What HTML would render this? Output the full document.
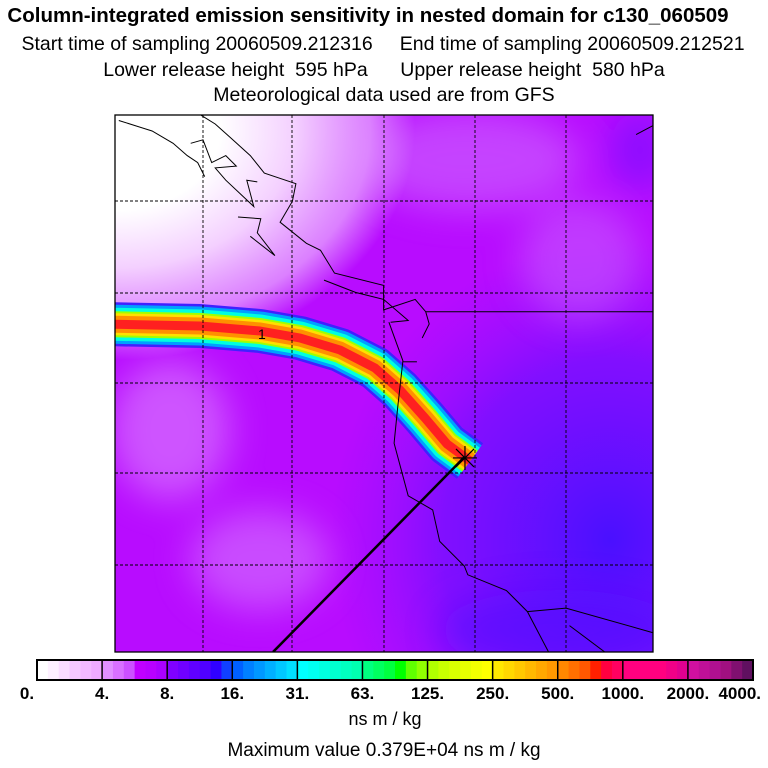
<!DOCTYPE html>
<html><head><meta charset="utf-8"><style>
body{margin:0;background:#fff;width:768px;height:768px;overflow:hidden;font-family:"Liberation Sans",sans-serif}
.t{position:absolute;left:0;width:768px;text-align:center;font-size:19.5px;color:#000;white-space:pre}
</style></head><body>
<div class="t" style="top:4px;left:-16px;font-weight:bold;font-size:20.5px">Column-integrated emission sensitivity in nested domain for c130_060509</div>
<div class="t" style="top:33px;left:-1px">Start time of sampling 20060509.212316     End time of sampling 20060509.212521</div>
<div class="t" style="top:59px">Lower release height  595 hPa      Upper release height  580 hPa</div>
<div class="t" style="top:84px">Meteorological data used are from GFS</div>
<svg id="s" width="768" height="768" style="position:absolute;left:0;top:0">
<defs>
<radialGradient id="wh" cx="0" cy="0" r="1" gradientUnits="userSpaceOnUse" gradientTransform="translate(115,130) scale(300,230)">
<stop offset="0" stop-color="#fff"/><stop offset="0.35" stop-color="#fff"/><stop offset="0.6" stop-color="#f4d0ff"/><stop offset="0.85" stop-color="#e49cff" stop-opacity="0.8"/><stop offset="1" stop-color="#e49cff" stop-opacity="0"/></radialGradient>
<radialGradient id="bl" cx="0" cy="0" r="1" gradientUnits="userSpaceOnUse" gradientTransform="translate(610,540) scale(280,300)">
<stop offset="0" stop-color="#4a10ff"/><stop offset="0.6" stop-color="#6a10ff" stop-opacity="0.7"/><stop offset="1" stop-color="#8a10ff" stop-opacity="0"/></radialGradient>
<filter id="blur"><feGaussianBlur stdDeviation="18"/></filter>
<clipPath id="cp"><rect x="115" y="115" width="538" height="537"/></clipPath>
</defs>
<g clip-path="url(#cp)">
<rect x="115" y="115" width="538" height="537" fill="#b80cff"/>
<rect x="115" y="115" width="538" height="537" fill="url(#bl)"/>
<g filter="url(#blur)" opacity="0.55">
<ellipse cx="170" cy="430" rx="60" ry="70" fill="#e090ff"/>
<ellipse cx="260" cy="560" rx="70" ry="50" fill="#d880ff"/>
<ellipse cx="470" cy="160" rx="110" ry="50" fill="#d070ff"/>
<ellipse cx="580" cy="260" rx="60" ry="60" fill="#c860ff"/>
<ellipse cx="640" cy="150" rx="30" ry="40" fill="#6a10ff"/>
<ellipse cx="560" cy="630" rx="120" ry="40" fill="#5010ff"/>
</g>
<rect x="115" y="115" width="538" height="537" fill="url(#wh)"/>
<g id="plume"></g>
<g id="grid"></g>
<g id="coast" fill="none" stroke="#000" stroke-width="1"></g>
<text x="258" y="339" font-size="14" font-family="Liberation Sans">1</text>
</g>
<rect x="115" y="115" width="538" height="537" fill="none" stroke="#000" stroke-width="1.3"/>
<g id="cbar"></g>
<text x="385" y="725" text-anchor="middle" font-size="18" font-family="Liberation Sans">ns m / kg</text>
<text x="384" y="756" text-anchor="middle" font-size="19" font-family="Liberation Sans">Maximum value  0.379E+04 ns m / kg</text>
</svg>
<script>
const cbLabels=["0.","4.","8.","16.","31.","63.","125.","250.","500.","1000.","2000.","4000."];
const cbColors=[
["#fff","#fdf0ff","#fadcff","#f6c8ff","#f2b8ff","#eeaaff"],
["#e090ff","#d870ff","#cc50ff","#c000ff","#b800ff","#aa00ff"],
["#8000ff","#7000ff","#6000ff","#5000ff","#3000ff","#1040ff"],
["#0060ff","#0080ff","#0098ff","#00b0ff","#00c8ff","#00e0ff"],
["#00ffff","#00fff0","#00ffe0","#00ffd0","#00ffc0","#00ffb0"],
["#00ff80","#00ff60","#00ff40","#00ff00","#60ff00","#90ff00"],
["#b0ff00","#c8ff00","#d8ff00","#e8ff00","#f4ff00","#ffff00"],
["#ffe800","#ffd800","#ffc800","#ffb800","#ffa800","#ff9800"],
["#ff8800","#ff7000","#ff5800","#ff2000","#ff0040","#ff0060"],
["#ff0080","#ff0080","#ff0080","#ff0080","#f00088","#e00090"],
["#d010a0","#c01098","#b01090","#a01080","#801070","#601060"]];
const gridX=[203,292,384,475,566], gridY=[201,293,383,473,565];
const NS="http://www.w3.org/2000/svg";
function mk(t,a,p){const e=document.createElementNS(NS,t);for(const k in a)e.setAttribute(k,a[k]);p.appendChild(e);return e;}
const cb=document.getElementById('cbar');
const x0=37,x1=753,y0=660,h=20,secW=(x1-x0)/cbColors.length;
cbColors.forEach((sec,i)=>{sec.forEach((c,j)=>{
 const r=mk('rect',{x:x0+i*secW+j*secW/sec.length,y:y0,width:secW/sec.length+0.5,height:h,fill:c},cb);
 
 
});
 if(i>0){const l=mk('line',{x1:x0+i*secW,x2:x0+i*secW,y1:y0,y2:y0+h,stroke:'#000','stroke-width':1.5},cb);
 
 }
});
mk('rect',{x:x0,y:y0,width:x1-x0,height:h,fill:'none',stroke:'#000','stroke-width':2},cb);
cbLabels.forEach((s,i)=>{
 const last=i==cbLabels.length-1;
 const t=mk('text',{x:last?x1+8:(i==0?x0-10:x0+i*secW),y:699,'text-anchor':last?'end':'middle','font-size':17,'font-weight':'bold','font-family':'Liberation Sans'},cb);
 t.textContent=s;
 
 
});
const g=document.getElementById('grid');
gridX.forEach(x=>{const l=mk('line',{x1:x,x2:x,y1:115,y2:652,stroke:'#000','stroke-width':0.9,'stroke-dasharray':'3,2'},g);

});
gridY.forEach(y=>{const l=mk('line',{y1:y,y2:y,x1:115,x2:653,stroke:'#000','stroke-width':0.9,'stroke-dasharray':'3,2'},g);

});
const pl=document.getElementById('plume');
const pd="M100,324 L200,326 L260,331 L300,338 L340,350 L375,368 L400,390 L425,418 L447,444 L470,461";
[["#4020ff",44,"butt"],["#00a0ff",39,"butt"],["#00ffe0",33,"butt"],["#a0ff00",26,"butt"],["#ffe000",22,"butt"],["#ff9000",17,"butt"],["#ff2020",9,"butt"]].forEach(([c,w,cap])=>{
 mk('path',{d:pd,fill:'none',stroke:c,'stroke-width':w,'stroke-linecap':cap,'stroke-linejoin':'round'},pl);
});
const S=550/1568;
function P(a){return a.map(p=>(110+p[0]*S).toFixed(1)+','+(110+p[1]*S).toFixed(1)).join(' ');}
const co=document.getElementById('coast');
[[[25,30],[120,60],[180,95],[220,130],[250,150],[270,190]],
 [[260,15],[300,40],[345,80],[400,130],[440,180],[530,210],[520,260],[485,320],[560,380],[600,400],[640,465],[780,500],[780,570],[870,540],[900,575],[910,610],[890,650]],
 [[230,95],[265,85],[290,150],[330,130],[360,160],[300,165],[330,200],[410,275],[390,200],[420,205]],
 [[365,305],[430,310],[420,350],[470,415],[400,360]],
 [[610,485],[700,520],[780,540],[850,600],[800,605]],
 [[795,605],[835,715],[820,850],[810,950],[850,1100],[920,1140],[940,1230],[1010,1300],[1020,1325],[1130,1370],[1190,1430],[1250,1545]],
 [[1190,1430],[1300,1420],[1547,1490]],[[1310,1470],[1410,1545]],[[1500,70],[1547,45]],
 [[900,575],[1547,575]],[[835,718],[875,718]]].forEach(a=>{
 const l=mk('polyline',{points:P(a)},co);
 
 
});
const fl=mk('line',{x1:110+1010*S,y1:110+990*S,x2:110+465*S,y2:110+1545*S,stroke:'#000','stroke-width':2.5},co);


const rx=110+1012*S,ry=110+992*S;
[[-12,0,12,0],[0,-12,0,12],[-9,-9,9,9],[-9,9,9,-9]].forEach(d=>{
 const l=mk('line',{x1:rx+d[0],y1:ry+d[1],x2:rx+d[2],y2:ry+d[3],stroke:'#000','stroke-width':1.2},co);
 
 
});
</script>
</body></html>
